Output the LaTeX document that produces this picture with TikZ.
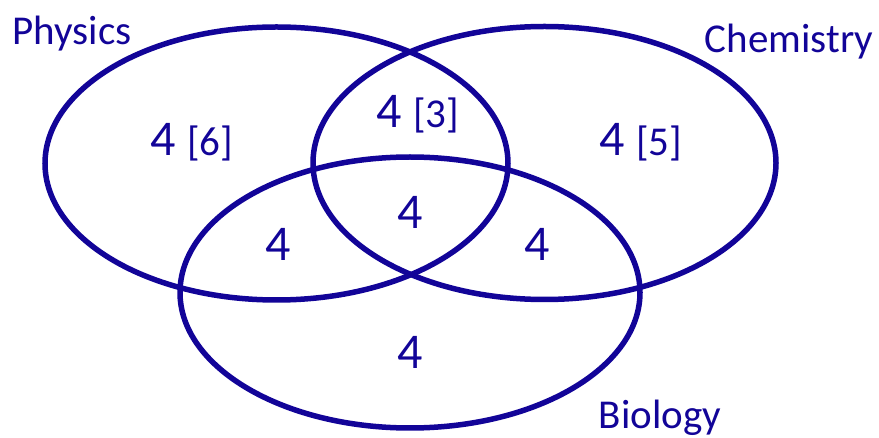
\documentclass[tikz,border=0pt]{standalone}
\usepackage{fontspec}
\setmainfont{Carlito}
\usetikzlibrary{shapes.geometric, positioning}
\definecolor{vennblue}{RGB}{18,4,152}
\newcommand{\smallnum}[1]{{\fontsize{41}{49}\selectfont #1}}
\tikzset{
    setring/.style={ellipse, draw=vennblue, line width=5.5pt, inner sep=0pt, minimum width=463pt, minimum height=273pt},
    setlabel/.style={anchor=base, text=vennblue, inner sep=0pt, font=\fontsize{41}{49}\selectfont},
    count/.style={text=vennblue, inner sep=0pt, font=\fontsize{50}{60}\selectfont}
}
\begin{document}
\begin{tikzpicture}[x=1pt, y=-1pt]
        \useasboundingbox (0,0) rectangle (879,438);
        % Sets
        \node (phys) [setring] at (276.5,163.5) {};
        \node (chem) [setring] at (544.5,163) {};
        \node (bio) [setring, minimum width=460pt, minimum height=271pt] at (410,292.5) {};
        
        % Set names
        \node (physname) [setlabel] at (72,45) {Physics};
        \node (chemname) [setlabel] at (789,53) {Chemistry};
        \node (bioname) [setlabel] at (660,429) {Biology};
        
        % Region counts
        \node (onlyphys) [count] at (192,142) {4 \smallnum{[6]}};
        \node (physchem) [count] at (418,114) {4 \smallnum{[3]}};
        \node (onlychem) [count] at (641,142) {4 \smallnum{[5]}};
        \node (allthree) [count] at (410,212) {4};
        \node (physbio) [count] at (278,244) {4};
        \node (chembio) [count] at (537,244) {4};
        \node (onlybio) [count] at (410,352) {4};
    \end{tikzpicture}
\end{document}
